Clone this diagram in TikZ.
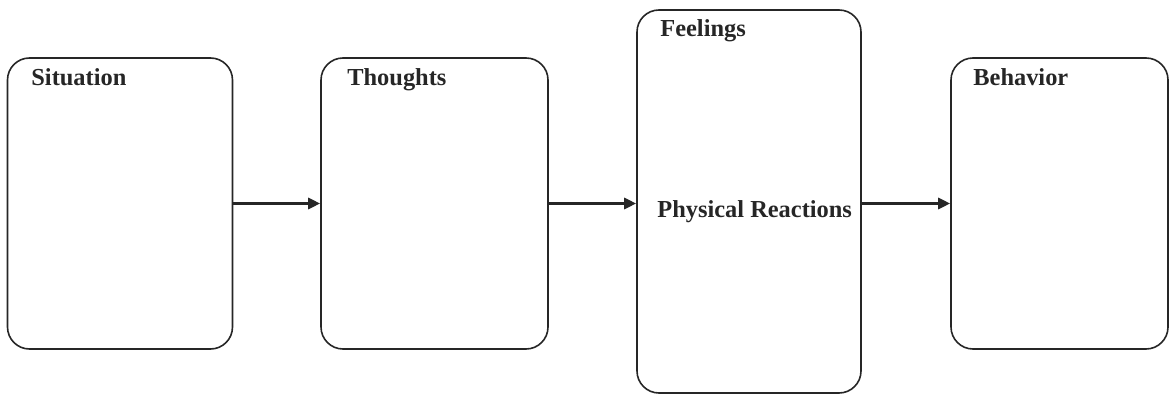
\documentclass[tikz,border=0pt]{standalone}
\usepackage{fontspec}
\setmainfont{Liberation Serif}
\usetikzlibrary{arrows.meta}
\begin{document}
\begin{tikzpicture}[x=0.5pt,y=-0.5pt,
  stage/.style={draw=black!85,line width=0.8pt,rounded corners=11pt,inner sep=0pt,fill=white},
  lbl/.style={anchor=base west,inner sep=0pt,font=\bfseries\fontsize{12.2}{14}\selectfont,text=black!85},
  flow/.style={line width=1.9pt,draw=black!85,-{Triangle[length=6pt,width=5.5pt]}}]
\useasboundingbox (0,0) rectangle (1176,395);
\node[stage,minimum width=112.5pt,minimum height=145.5pt] (sit) at (120,203.5) {};
\node[stage,minimum width=113.5pt,minimum height=145.5pt] (tho) at (434.5,203.5) {};
\node[stage,minimum width=112pt,minimum height=191.5pt] (fee) at (749,201.5) {};
\node[stage,minimum width=108.5pt,minimum height=145.5pt] (beh) at (1059.5,203.5) {};
\node[lbl] (tsit) at (31,86) {Situation};
\node[lbl] (ttho) at (347,86) {Thoughts};
\node[lbl] (tfee) at (660,37) {Feelings};
\node[lbl] (tphy) at (657,218) {Physical Reactions};
\node[lbl] (tbeh) at (973,86) {Behavior};
\draw[flow] (sit.east) -- (tho.west);
\draw[flow] (tho.east) -- (tho.east -| fee.west);
\draw[flow] (tho.east -| fee.east) -- (beh.west);
\end{tikzpicture}
\end{document}
